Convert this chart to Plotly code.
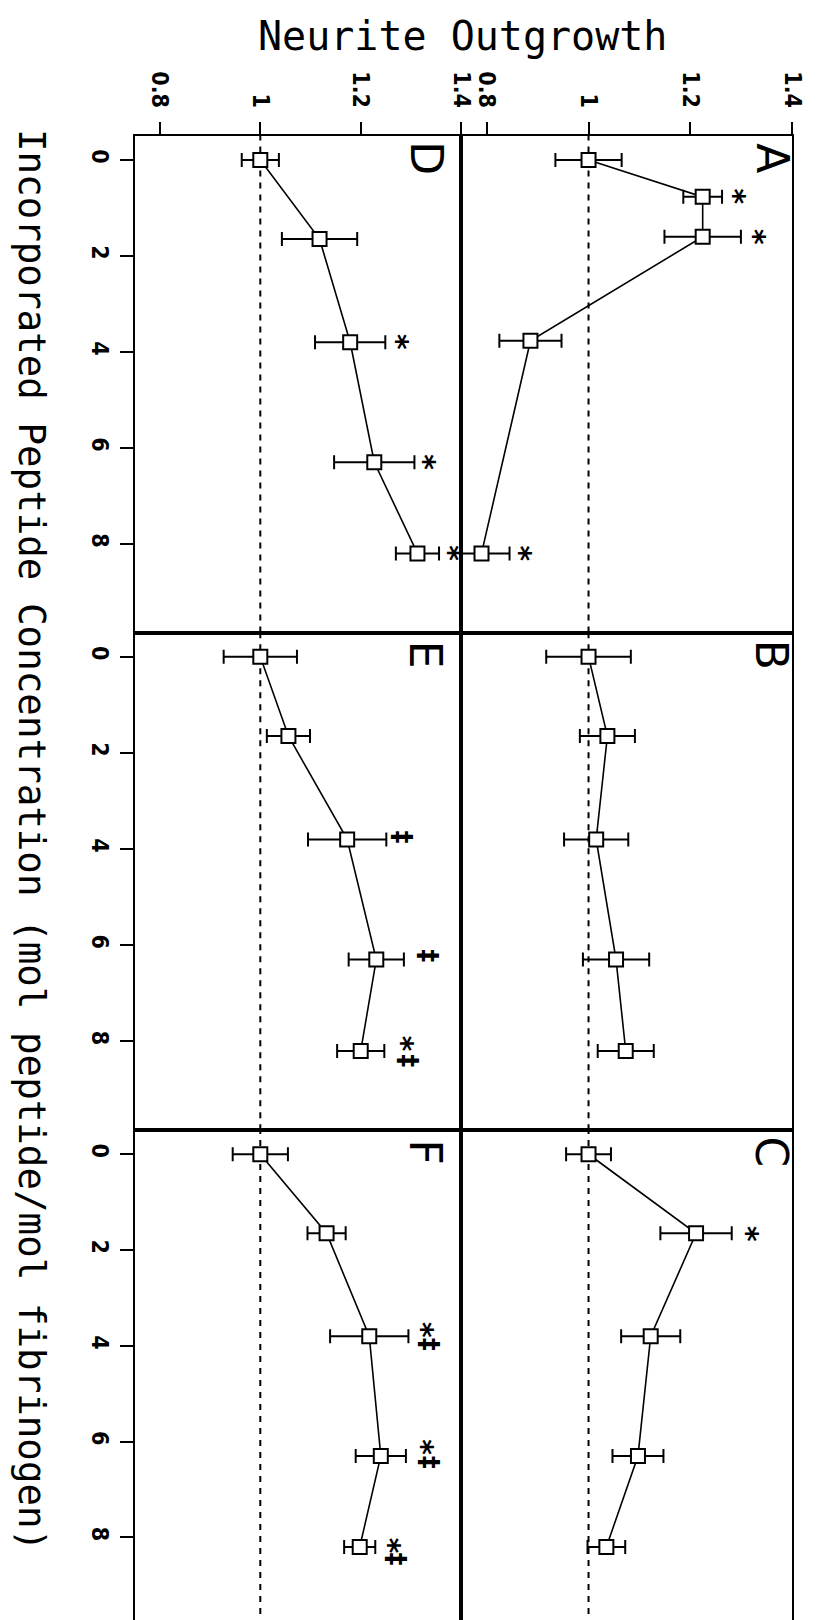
import plotly.graph_objects as go

# ---------------- data ----------------
panels = ["A", "B", "C", "D", "E", "F"]

conc = [0, 1.65, 3.8, 6.3, 8.2]
conc_A = [0, 0.77, 1.6, 3.77, 8.2]

A_mean = [1.0, 1.224, 1.224, 0.886, 0.79]
A_err = [0.065, 0.038, 0.075, 0.061, 0.055]
B_mean = [1.0, 1.037, 1.015, 1.054, 1.073]
B_err = [0.083, 0.054, 0.063, 0.065, 0.055]
C_mean = [1.0, 1.211, 1.122, 1.097, 1.035]
C_err = [0.044, 0.070, 0.058, 0.050, 0.037]
D_mean = [1.0, 1.118, 1.179, 1.227, 1.313]
D_err = [0.037, 0.075, 0.070, 0.080, 0.043]
E_mean = [1.0, 1.056, 1.173, 1.231, 1.200]
E_err = [0.073, 0.043, 0.078, 0.055, 0.047]
F_mean = [1.0, 1.132, 1.217, 1.240, 1.198]
F_err = [0.055, 0.038, 0.078, 0.050, 0.031]

# significance marks: (panel, outgrowth value, concentration, symbol)
sig_panel = ["A", "A", "A", "C", "D", "D", "D", "E", "E", "E", "E", "F", "F", "F", "F", "F", "F"]
sig_value = [1.298, 1.338, 0.879, 1.325, 1.285, 1.340, 1.388, 1.283, 1.334, 1.295, 1.295, 1.336, 1.336, 1.336, 1.336, 1.270, 1.270]
sig_conc = [0.77, 1.6, 8.2, 1.67, 3.8, 6.3, 8.2, 3.75, 6.23, 8.06, 8.4, 3.67, 3.98, 6.12, 6.44, 8.17, 8.46]
sig_sym = ["*", "*", "*", "*", "*", "*", "*", "‡", "‡", "*", "‡", "*", "‡", "*", "‡", "*", "‡"]

x_ticks = [0.8, 1.0, 1.2, 1.4]
x_tick_labels = ["0.8", "1", "1.2", "1.4"]
y_ticks = [0, 2, 4, 6, 8]
y_tick_labels = ["0", "2", "4", "6", "8"]

x_title = "Neurite Outgrowth"
y_title = "Incorporated Peptide Concentration (mol peptide/mol fibrinogen)"

means = {"A": A_mean, "B": B_mean, "C": C_mean, "D": D_mean, "E": E_mean, "F": F_mean}
errs = {"A": A_err, "B": B_err, "C": C_err, "D": D_err, "E": E_err, "F": F_err}
concs = {"A": conc_A, "B": conc, "C": conc, "D": conc, "E": conc, "F": conc}

# ---------------- layout geometry ----------------
W, H = 820, 1620
col_px = {"left": (129, 461), "right": (461, 798)}
row_px = [(128, 625), (625, 1123), (1123, 1619)]
letter_x_px = {"left": 425, "right": 777}
panel_pos = {"A": ("right", 0), "B": ("right", 1), "C": ("right", 2),
             "D": ("left", 0), "E": ("left", 1), "F": ("left", 2)}

TICKFONT = dict(family="DejaVu Sans Condensed, Liberation Sans Narrow, DejaVu Sans", size=23,
                color="black", weight="bold")

fig = go.Figure()
layout = dict(
    width=W, height=H, margin=dict(l=0, r=0, t=0, b=0),
    paper_bgcolor="white", plot_bgcolor="white", showlegend=False,
)

shapes = []
annotations = []
for i, p in enumerate(panels, start=1):
    col, row = panel_pos[p]
    x0, x1 = col_px[col]
    yt, yb = row_px[row]
    xa = "xaxis" if i == 1 else f"xaxis{i}"
    ya = "yaxis" if i == 1 else f"yaxis{i}"
    xr = "x" if i == 1 else f"x{i}"
    yr = "y" if i == 1 else f"y{i}"
    top = row == 0
    left = col == "left"
    layout[xa] = dict(
        domain=[x0 / W, x1 / W], anchor=yr, range=[0.75, 1.4], side="top",
        showline=True, mirror=True, linecolor="black", linewidth=1.8,
        showgrid=False, zeroline=False,
        ticks="outside" if top else "", ticklen=12, tickwidth=2, tickcolor="black",
        tickvals=x_ticks if top else [], ticktext=x_tick_labels if top else [],
        showticklabels=top, tickangle=90, tickfont=TICKFONT, ticklabelstandoff=6,
    )
    layout[ya] = dict(
        domain=[1 - yb / H, 1 - yt / H], anchor=xr, range=[9.85, -0.5],
        showline=True, mirror=True, linecolor="black", linewidth=1.8,
        showgrid=False, zeroline=False,
        ticks="outside" if left else "", ticklen=13, tickwidth=2, tickcolor="black",
        tickvals=y_ticks if left else [], ticktext=y_tick_labels if left else [],
        showticklabels=left, tickangle=90, tickfont=TICKFONT,
    )
    # dashed reference line at 1
    shapes.append(dict(type="line", xref=xr, yref=f"{yr} domain", x0=1, x1=1, y0=0, y1=1,
                       line=dict(color="black", width=2, dash="6px,6px"), layer="below"))
    fig.add_trace(go.Scatter(
        x=means[p], y=concs[p], xaxis=xr, yaxis=yr, mode="lines+markers",
        line=dict(color="black", width=1.6),
        marker=dict(symbol="square", size=14, color="white", line=dict(color="black", width=2)),
        error_x=dict(type="data", array=errs[p], color="black", thickness=2, width=7),
        cliponaxis=False,
    ))
    annotations.append(dict(
        text=p, xref="paper", yref="paper", x=letter_x_px[col] / W, y=1 - (yt + 22) / H,
        showarrow=False, textangle=90, xanchor="center", yanchor="middle",
        font=dict(family="DejaVu Sans", size=44, color="black"),
    ))

for p, v, c, s in zip(sig_panel, sig_value, sig_conc, sig_sym):
    i = panels.index(p) + 1
    xr = "x" if i == 1 else f"x{i}"
    yr = "y" if i == 1 else f"y{i}"
    annotations.append(dict(
        text=s, x=v, y=c, xref=xr, yref=yr, showarrow=False, textangle=90,
        xanchor="center", yanchor="middle", xshift=-6 if s == "*" else 0,
        font=dict(family="DejaVu Sans", size=30 if s == "*" else 26, color="black",
                  weight="bold"),
    ))

annotations.append(dict(
    text=x_title, xref="paper", yref="paper", x=462 / W, y=1 - 28 / H,
    showarrow=False, xanchor="center", yanchor="middle",
    font=dict(family="DejaVu Sans Mono", size=40, color="black"),
))
annotations.append(dict(
    text=y_title, xref="paper", yref="paper", x=24 / W, y=1 - 832 / H,
    showarrow=False, xanchor="center", yanchor="middle", textangle=90,
    font=dict(family="DejaVu Sans Mono", size=37.5, color="black"),
))

layout["shapes"] = shapes
layout["annotations"] = annotations
fig.update_layout(**layout)
fig.write_html("out.html")
